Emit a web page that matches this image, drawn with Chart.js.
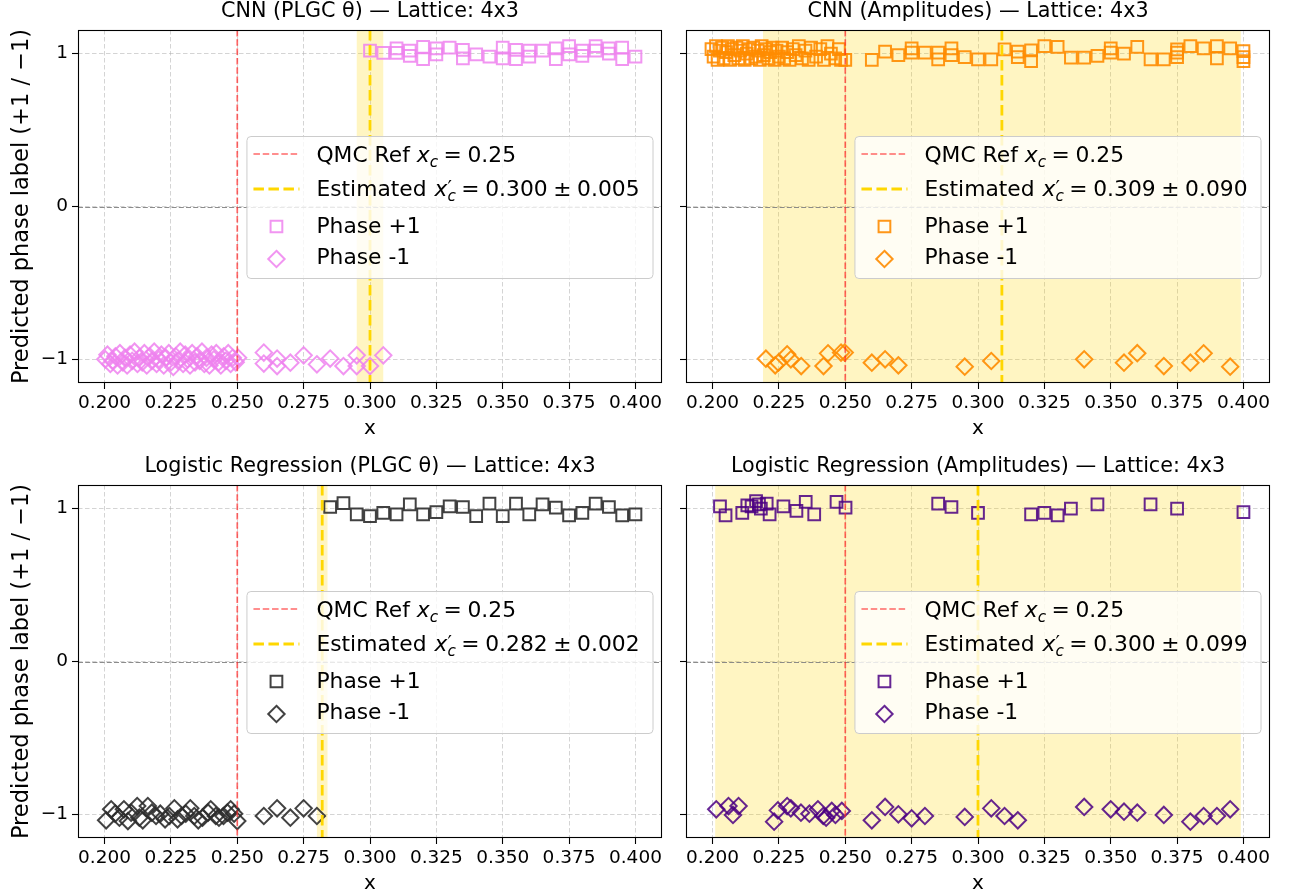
<!DOCTYPE html>
<html>
<head>
<meta charset="utf-8">
<script src="https://cdn.jsdelivr.net/npm/chart.js@4.4.1/dist/chart.umd.min.js"></script>
<style>
  html, body { margin: 0; padding: 0; background: #ffffff; }
  #wrap { position: relative; width: 1297px; height: 896px; overflow: hidden; background: #ffffff; }
  #wrap canvas { position: absolute; }
</style>
</head>
<body>
<div id="wrap">
  <canvas id="c0"></canvas>
  <canvas id="c1"></canvas>
  <canvas id="c2"></canvas>
  <canvas id="c3"></canvas>
</div>
<script>
// ---------------- data ----------------
const X_TICKS = [0.200, 0.225, 0.250, 0.275, 0.300, 0.325, 0.350, 0.375, 0.400];
const Y_TICKS = [-1, 0, 1];
const X_RANGE = [0.19, 0.41];
const Y_RANGE = [-1.155, 1.155];

const TITLES = [
  'CNN (PLGC θ) — Lattice: 4x3',
  'CNN (Amplitudes) — Lattice: 4x3',
  'Logistic Regression (PLGC θ) — Lattice: 4x3',
  'Logistic Regression (Amplitudes) — Lattice: 4x3'
];
const X_LABEL = 'x';
const Y_LABEL = 'Predicted phase label (+1 / −1)';
const SERIES_LABELS = ['Phase +1', 'Phase -1'];
const REF_LABEL = 'QMC Ref';
const EST_LABEL = 'Estimated';

const QMC_XC = 0.25;
const EST_XC = [0.300, 0.309, 0.282, 0.300];
const EST_ERR = [0.005, 0.090, 0.002, 0.099];

// CNN on PLGC angles
const cnnPlgcPlusX = [0.300,0.305,0.310,0.310,0.315,0.315,0.320,0.320,0.325,0.325,0.330,0.335,0.335,0.340,0.345,0.350,0.350,0.355,0.355,0.360,0.360,0.365,0.370,0.370,0.375,0.375,0.380,0.380,0.385,0.385,0.390,0.390,0.395,0.395,0.400];
const cnnPlgcPlusY = [1.020,1.005,1.035,1.005,1.020,0.985,1.045,0.965,1.035,0.995,1.040,1.025,0.970,0.995,0.980,1.040,0.970,1.025,0.965,1.020,0.980,1.020,1.035,0.965,1.050,0.995,1.020,0.985,1.050,1.020,1.035,1.000,1.040,0.965,0.980];
const cnnPlgcMinusX = [0.2003,0.2011,0.2022,0.2030,0.2041,0.2049,0.2058,0.2069,0.2077,0.2085,0.2096,0.2104,0.2113,0.2124,0.2131,0.2142,0.2150,0.2159,0.2170,0.2178,0.2187,0.2196,0.2205,0.2214,0.2223,0.2231,0.2242,0.2250,0.2259,0.2268,0.2277,0.2285,0.2296,0.2304,0.2313,0.2322,0.2330,0.2341,0.2349,0.2358,0.2367,0.2376,0.2384,0.2395,0.2403,0.2412,0.2421,0.2430,0.2438,0.2449,0.2457,0.2466,0.2475,0.2483,0.2494,0.2503,
  0.260,0.260,0.265,0.265,0.270,0.275,0.280,0.285,0.290,0.295,0.295,0.300,0.305];
const cnnPlgcMinusY = [-1.00,-0.97,-1.03,-1.01,-0.98,-1.04,-0.96,-1.02,-0.99,-1.04,-0.97,-1.01,-0.95,-1.03,-0.99,-1.02,-0.96,-1.04,-0.98,-1.01,-0.95,-1.03,-1.00,-0.97,-1.04,-0.99,-0.96,-1.02,-1.05,-0.98,-1.01,-0.95,-1.03,-0.97,-1.00,-1.04,-0.96,-1.02,-0.98,-1.01,-0.95,-1.03,-0.99,-1.04,-0.97,-1.00,-0.96,-1.02,-1.04,-0.98,-1.01,-0.96,-1.03,-0.99,-1.02,-0.99,
  -0.956,-1.028,-0.995,-1.044,-1.022,-0.974,-1.033,-0.995,-1.044,-0.974,-1.044,-1.044,-0.974];

// CNN on amplitudes
const cnnAmpPlusX = [0.1996,0.2004,0.2013,0.2019,0.2027,0.2036,0.2042,0.2051,0.2058,0.2066,0.2073,0.2082,0.2090,0.2097,0.2105,0.2114,0.2121,0.2129,0.2138,0.2146,0.2153,0.2161,0.2170,0.2178,0.2185,0.2193,0.2202,0.2211,0.2217,0.2226,0.2234,0.2241,0.2250,0.2262,0.2270,0.2281,0.2290,0.2302,0.2313,0.2325,0.2337,0.2350,0.2362,0.2371,0.2390,0.2406,0.2420,0.2433,0.2446,0.2462,0.2476,0.2484,
  0.250,0.260,0.265,0.270,0.275,0.275,0.280,0.285,0.285,0.290,0.290,0.295,0.300,0.305,0.310,0.315,0.315,0.320,0.320,0.325,0.330,0.335,0.340,0.345,0.350,0.350,0.355,0.360,0.365,0.370,0.375,0.375,0.375,0.380,0.385,0.390,0.390,0.395,0.400,0.400,0.400];
const cnnAmpPlusY = [1.03,0.98,1.05,0.96,1.02,1.04,0.97,1.01,1.05,0.96,1.03,0.99,1.04,0.97,1.02,1.05,0.96,1.00,1.03,0.97,1.04,0.98,1.02,0.96,1.05,0.99,1.03,0.97,1.01,1.04,0.96,1.02,0.98,1.04,0.97,1.01,0.96,1.03,0.99,1.05,0.97,1.02,0.96,1.04,0.98,1.03,0.96,1.05,1.00,0.97,1.03,0.96,
  0.959,0.959,1.013,0.991,1.035,1.007,1.007,1.007,0.963,1.035,0.991,0.978,0.963,0.963,1.028,1.013,0.978,1.022,0.952,1.050,1.044,0.974,0.974,0.985,1.035,1.007,1.000,1.044,0.963,0.963,1.028,1.007,0.978,1.050,1.035,1.050,0.970,1.035,1.017,0.978,0.952];
const cnnAmpMinusX = [0.2201,0.2236,0.2248,0.2281,0.2295,0.2334,0.2418,0.2435,0.2484,0.2498,0.260,0.265,0.270,0.295,0.305,0.340,0.355,0.360,0.370,0.380,0.385,0.395];
const cnnAmpMinusY = [-0.996,-1.039,-1.022,-0.967,-1.000,-1.044,-1.044,-0.961,-0.956,-0.956,-1.022,-1.000,-1.039,-1.048,-1.011,-1.000,-1.022,-0.960,-1.044,-1.022,-0.961,-1.048];

// Logistic regression on PLGC angles
const lrPlgcPlusX = [0.285,0.290,0.295,0.300,0.305,0.310,0.315,0.320,0.325,0.330,0.335,0.340,0.345,0.350,0.355,0.360,0.365,0.370,0.375,0.380,0.385,0.390,0.395,0.400];
const lrPlgcPlusY = [1.011,1.037,0.963,0.952,0.972,0.963,1.028,0.963,0.978,1.015,1.011,0.952,1.033,0.952,1.033,0.963,1.028,1.007,0.956,0.972,1.033,1.011,0.956,0.963];
const lrPlgcMinusX = [0.2006,0.2025,0.2040,0.2056,0.2073,0.2088,0.2100,0.2123,0.2131,0.2144,0.2163,0.2178,0.2194,0.2210,0.2228,0.2244,0.2263,0.2275,0.2290,0.2306,0.2323,0.2338,0.2353,0.2369,0.2390,0.2400,0.2419,0.2431,0.2448,0.2463,0.2475,0.2488,0.2500,
  0.260,0.265,0.270,0.275,0.280];
const lrPlgcMinusY = [-1.039,-0.967,-0.996,-1.022,-0.967,-1.044,-0.989,-0.946,-1.022,-1.039,-0.946,-0.989,-1.011,-0.996,-1.033,-1.011,-0.961,-1.033,-1.011,-0.996,-0.961,-1.011,-1.039,-1.022,-0.989,-0.967,-1.011,-1.022,-1.011,-0.989,-0.967,-0.996,-1.044,
  -1.011,-0.961,-1.022,-0.961,-1.011];

// Logistic regression on amplitudes
const lrAmpPlusX = [0.2028,0.2049,0.2112,0.2131,0.2147,0.2164,0.2175,0.2182,0.2204,0.2215,0.2267,0.2316,0.2351,0.2383,0.2467,0.2501,0.285,0.290,0.300,0.320,0.325,0.330,0.335,0.345,0.365,0.375,0.400];
const lrAmpPlusY = [1.015,0.956,0.972,1.022,1.015,1.050,1.028,1.000,1.033,0.963,1.015,0.985,1.044,0.963,1.044,1.007,1.033,1.011,0.972,0.963,0.972,0.956,1.000,1.028,1.028,1.000,0.978];
const lrAmpMinusX = [0.2014,0.2060,0.2077,0.2098,0.2232,0.2246,0.2281,0.2295,0.2333,0.2365,0.2397,0.2417,0.2428,0.2449,0.2463,0.2487,0.260,0.265,0.270,0.275,0.280,0.295,0.305,0.310,0.315,0.340,0.350,0.355,0.360,0.370,0.380,0.385,0.390,0.395];
const lrAmpMinusY = [-0.967,-0.946,-1.004,-0.946,-1.048,-0.974,-0.946,-0.961,-0.989,-0.996,-0.967,-1.011,-1.022,-0.978,-1.004,-0.978,-1.039,-0.952,-1.000,-1.026,-1.011,-1.017,-0.961,-1.011,-1.039,-0.952,-0.967,-0.983,-0.989,-1.004,-1.048,-1.011,-1.011,-0.967];

const COLORS = ['rgba(238,130,238,0.85)', 'rgba(255,140,0,0.9)', 'rgba(45,45,45,0.9)', 'rgba(75,0,130,0.85)'];

const PANEL_DATA = [
  { plus: [cnnPlgcPlusX, cnnPlgcPlusY], minus: [cnnPlgcMinusX, cnnPlgcMinusY] },
  { plus: [cnnAmpPlusX, cnnAmpPlusY], minus: [cnnAmpMinusX, cnnAmpMinusY] },
  { plus: [lrPlgcPlusX, lrPlgcPlusY], minus: [lrPlgcMinusX, lrPlgcMinusY] },
  { plus: [lrAmpPlusX, lrAmpPlusY], minus: [lrAmpMinusX, lrAmpMinusY] }
];

// ---------------- layout & style ----------------
const FAMILY = '"DejaVu Sans", sans-serif';
const TICK_SIZE = 18.5;
const TITLE_SIZE = 20.7;
const XLABEL_SIZE = 20;
const YLABEL_SIZE = 22.5;
const LEGEND_SIZE = 21.8;
const MATH_SPACE = 5.6;   // gap around = and ± in the legend formulas

const LAYOUT = [
  { left: 0,   top: 0,   w: 674, h: 448, plot: [78, 30, 662, 383],  ylabel: true },
  { left: 674, top: 0,   w: 623, h: 448, plot: [686, 30, 1270, 383], ylabel: false },
  { left: 0,   top: 448, w: 674, h: 448, plot: [78, 485, 662, 838],  ylabel: true },
  { left: 674, top: 448, w: 623, h: 448, plot: [686, 485, 1270, 838], ylabel: false }
];

function zip(xs, ys) { return xs.map((x, i) => ({ x: x, y: ys[i] })); }
function minusSign(v) { return v < 0 ? '\u2212' + Math.abs(v) : String(v); }

// text runs with simple math-style sub/superscripts; {sp: n} advances n px
function runFont(r, size) {
  const s = size * (r.scale || 1);
  return (r.it ? 'italic ' : '') + s + 'px ' + FAMILY;
}
function layoutRuns(ctx, runs, x, y, size, draw) {
  let stackW = 0;
  for (const r of runs) {
    if (r.sp !== undefined) { x += r.sp; continue; }
    ctx.font = runFont(r, size);
    if (draw) ctx.fillText(r.t, x + (r.dx || 0), y + (r.dy || 0) * size);
    const rw = ctx.measureText(r.t).width + (r.dx || 0);
    if (r.stack) { stackW = rw; }
    else { x += Math.max(rw, stackW); stackW = 0; }
  }
  return x;
}
function mathTail(parts) {
  const out = [];
  parts.forEach((p, i) => {
    if (i > 0) out.push({ sp: MATH_SPACE });
    out.push({ t: p });
  });
  return out;
}

function drawMarker(ctx, style, cx, cy, r) {
  ctx.beginPath();
  if (style === 'rect') {
    const s = Math.SQRT1_2 * r;
    ctx.rect(cx - s, cy - s, 2 * s, 2 * s);
  } else {
    ctx.moveTo(cx, cy - r); ctx.lineTo(cx + r, cy); ctx.lineTo(cx, cy + r); ctx.lineTo(cx - r, cy); ctx.closePath();
  }
  ctx.stroke();
}

function roundRect(ctx, x, y, w, h, r) {
  ctx.beginPath();
  ctx.moveTo(x + r, y);
  ctx.lineTo(x + w - r, y); ctx.arcTo(x + w, y, x + w, y + r, r);
  ctx.lineTo(x + w, y + h - r); ctx.arcTo(x + w, y + h, x + w - r, y + h, r);
  ctx.lineTo(x + r, y + h); ctx.arcTo(x, y + h, x, y + h - r, r);
  ctx.lineTo(x, y + r); ctx.arcTo(x, y, x + r, y, r);
  ctx.closePath();
}

const SQUARE_R = 8.3;
const DIAMOND_R = 8.2;
const REF_STYLE = { color: 'rgba(255,40,40,0.7)', width: 1.7, dash: [6.5, 2.8] };
const EST_STYLE = { color: '#ffd700', width: 2.8, dash: [10.5, 4.5] };

const panelDecor = {
  id: 'panelDecor',
  beforeDatasetsDraw(chart, args, opts) {
    const { ctx, chartArea: a, scales: { x, y } } = chart;
    ctx.save();
    ctx.beginPath(); ctx.rect(a.left, a.top, a.right - a.left, a.bottom - a.top); ctx.clip();
    // uncertainty band around the estimated transition
    const b0 = x.getPixelForValue(opts.est - opts.err);
    const b1 = x.getPixelForValue(opts.est + opts.err);
    ctx.fillStyle = 'rgba(255,215,0,0.24)';
    ctx.fillRect(b0, a.top, b1 - b0, a.bottom - a.top);
    // y = 0 guide
    const y0 = Math.round(y.getPixelForValue(0)) + 0.5;
    ctx.strokeStyle = 'rgba(128,128,128,0.9)';
    ctx.lineWidth = 1.1;
    ctx.setLineDash([5, 2.2]);
    ctx.beginPath(); ctx.moveTo(a.left, y0); ctx.lineTo(a.right, y0); ctx.stroke();
    ctx.restore();
  },
  afterDatasetsDraw(chart, args, opts) {
    const { ctx, chartArea: a, scales: { x } } = chart;
    const vline = (xp, st) => {
      ctx.strokeStyle = st.color; ctx.lineWidth = st.width; ctx.setLineDash(st.dash);
      ctx.beginPath(); ctx.moveTo(xp, a.top); ctx.lineTo(xp, a.bottom); ctx.stroke();
    };
    ctx.save();
    ctx.beginPath(); ctx.rect(a.left, a.top, a.right - a.left, a.bottom - a.top); ctx.clip();
    vline(x.getPixelForValue(QMC_XC), REF_STYLE);
    vline(x.getPixelForValue(opts.est), EST_STYLE);
    ctx.restore();

    // frame
    ctx.save();
    ctx.strokeStyle = '#000';
    ctx.lineWidth = 1.1;
    ctx.strokeRect(Math.round(a.left) + 0.5, Math.round(a.top) + 0.5, Math.round(a.right - a.left) - 1, Math.round(a.bottom - a.top) - 1);
    ctx.restore();

    // legend
    const fs = LEGEND_SIZE;
    const rows = [
      [{ t: REF_LABEL + ' ' }, { t: 'x', it: true }, { t: 'c', it: true, scale: 0.7, dy: 0.24 }, { sp: MATH_SPACE },
       ...mathTail(['=', QMC_XC.toFixed(2)])],
      [{ t: EST_LABEL + ' ' }, { t: 'x', it: true, dx: 1 }, { t: '\u2032', scale: 0.9, dy: -0.08, stack: true }, { t: 'c', it: true, scale: 0.7, dy: 0.24 },
       { sp: MATH_SPACE }, ...mathTail(['=', opts.est.toFixed(3), '\u00b1', opts.err.toFixed(3)])],
      [{ t: SERIES_LABELS[0] }],
      [{ t: SERIES_LABELS[1] }]
    ];
    ctx.save();
    let maxW = 0;
    for (const r of rows) maxW = Math.max(maxW, layoutRuns(ctx, r, 0, 0, fs, false));
    const textOff = 70;
    const boxR = a.right - 9.5;
    const boxW = textOff + maxW + 13;
    const boxL = boxR - boxW;
    const boxT = a.top + 106;
    const boxH = 142;
    roundRect(ctx, boxL + 0.5, boxT + 0.5, boxW, boxH, 4);
    ctx.fillStyle = 'rgba(255,255,255,0.8)';
    ctx.fill();
    ctx.strokeStyle = 'rgba(204,204,204,1)';
    ctx.lineWidth = 1;
    ctx.stroke();

    const base = [25.5, 59.5, 96.5, 128];
    const mid = [18, 53, 90.5, 123];
    const hline = (yy, st) => {
      ctx.strokeStyle = st.color; ctx.lineWidth = st.width; ctx.setLineDash(st.dash);
      ctx.beginPath(); ctx.moveTo(boxL + 7, yy); ctx.lineTo(boxL + 53, yy); ctx.stroke();
    };
    hline(boxT + mid[0], REF_STYLE);
    hline(boxT + mid[1], EST_STYLE);
    ctx.setLineDash([]);
    ctx.strokeStyle = opts.color; ctx.lineWidth = 2;
    drawMarker(ctx, 'rect', boxL + 30, boxT + mid[2], SQUARE_R);
    drawMarker(ctx, 'rectRot', boxL + 30, boxT + mid[3], DIAMOND_R);

    ctx.fillStyle = '#000';
    ctx.textAlign = 'left';
    ctx.textBaseline = 'alphabetic';
    rows.forEach((r, i) => layoutRuns(ctx, r, boxL + textOff, boxT + base[i], fs, true));
    ctx.restore();
  },
  afterDraw(chart, args, opts) {
    const { ctx, chartArea: a } = chart;
    ctx.save();
    ctx.fillStyle = '#000';
    ctx.textAlign = 'center';
    ctx.textBaseline = 'middle';
    ctx.font = TITLE_SIZE + 'px ' + FAMILY;
    ctx.fillText(opts.title, (a.left + a.right) / 2, a.top - 18);
    ctx.font = XLABEL_SIZE + 'px ' + FAMILY;
    ctx.fillText(X_LABEL, (a.left + a.right) / 2, a.bottom + 46);
    if (opts.ylabel) {
      ctx.font = YLABEL_SIZE + 'px ' + FAMILY;
      ctx.translate(22, (a.top + a.bottom) / 2);
      ctx.rotate(-Math.PI / 2);
      ctx.fillText(Y_LABEL, 0, 0);
    }
    ctx.restore();
  }
};

function buildPanel(i) {
  const L = LAYOUT[i];
  const cv = document.getElementById('c' + i);
  cv.width = L.w; cv.height = L.h;
  cv.style.left = L.left + 'px'; cv.style.top = L.top + 'px';
  cv.style.width = L.w + 'px'; cv.style.height = L.h + 'px';
  const pl = L.plot[0] - L.left, pt = L.plot[1] - L.top, pr = L.plot[2] - L.left, pb = L.plot[3] - L.top;
  const D = PANEL_DATA[i];
  const color = COLORS[i];

  const gridCommon = {
    color: 'rgba(176,176,176,0.55)',
    lineWidth: 1,
    tickColor: '#000',
    tickLength: 6,
    tickWidth: 1.1,
    tickBorderDash: []
  };

  new Chart(cv.getContext('2d'), {
    type: 'scatter',
    data: {
      datasets: [
        { label: SERIES_LABELS[0], data: zip(D.plus[0], D.plus[1]), pointStyle: 'rect', pointRadius: SQUARE_R,
          borderColor: color, backgroundColor: 'rgba(0,0,0,0)', borderWidth: 2, pointBorderWidth: 2 },
        { label: SERIES_LABELS[1], data: zip(D.minus[0], D.minus[1]), pointStyle: 'rectRot', pointRadius: DIAMOND_R,
          borderColor: color, backgroundColor: 'rgba(0,0,0,0)', borderWidth: 2, pointBorderWidth: 2 }
      ]
    },
    options: {
      responsive: false,
      animation: false,
      devicePixelRatio: 1,
      events: [],
      layout: { autoPadding: false, padding: { left: 0, top: pt, right: L.w - pr, bottom: 0 } },
      plugins: {
        legend: { display: false },
        tooltip: { enabled: false },
        title: { display: false },
        panelDecor: { est: EST_XC[i], err: EST_ERR[i], color: color, title: TITLES[i], ylabel: L.ylabel }
      },
      scales: {
        x: {
          type: 'linear', min: X_RANGE[0], max: X_RANGE[1],
          afterBuildTicks: s => { s.ticks = X_TICKS.map(v => ({ value: v })); },
          afterFit: s => { s.height = L.h - pb; },
          ticks: { font: { family: FAMILY, size: TICK_SIZE }, color: '#000', padding: 3, maxRotation: 0, autoSkip: false,
                   callback: v => Number(v).toFixed(3) },
          grid: gridCommon,
          border: { display: false, dash: [4.5, 2.5] }
        },
        y: {
          type: 'linear', min: Y_RANGE[0], max: Y_RANGE[1],
          afterBuildTicks: s => { s.ticks = Y_TICKS.map(v => ({ value: v })); },
          afterFit: s => { s.width = pl; },
          ticks: { display: L.ylabel, font: { family: FAMILY, size: TICK_SIZE }, color: '#000', padding: 4,
                   callback: v => minusSign(v) },
          grid: gridCommon,
          border: { display: false, dash: [4.5, 2.5] }
        }
      }
    },
    plugins: [panelDecor]
  });
}

for (let i = 0; i < 4; i++) buildPanel(i);
</script>
</body>
</html>
